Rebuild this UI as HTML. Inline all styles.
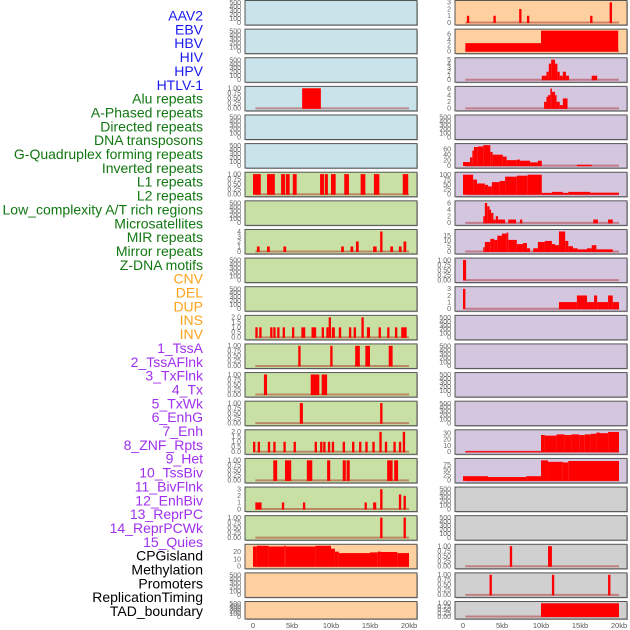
<!DOCTYPE html>
<html><head><meta charset="utf-8">
<style>
body{margin:0;background:#fff;}
svg{display:block;font-family:"Liberation Sans",sans-serif;}
</style></head>
<body>
<svg id="chart" width="630" height="630" viewBox="0 0 630 630"></svg>
<script>
const trackLabels = ["AAV2","EBV","HBV","HIV","HPV","HTLV-1","Alu repeats","A-Phased repeats","Directed repeats","DNA transposons","G-Quadruplex forming repeats","Inverted repeats","L1 repeats","L2 repeats","Low_complexity A/T rich regions","Microsatellites","MIR repeats","Mirror repeats","Z-DNA motifs","CNV","DEL","DUP","INS","INV","1_TssA","2_TssAFlnk","3_TxFlnk","4_Tx","5_TxWk","6_EnhG","7_Enh","8_ZNF_Rpts","9_Het","10_TssBiv","11_BivFlnk","12_EnhBiv","13_ReprPC","14_ReprPCWk","15_Quies","CPGisland","Methylation","Promoters","ReplicationTiming","TAD_boundary"];
const labelGroups = [6,13,5,15,5];
const groupColors = ["#1a1aee","#117711","#ffa21a","#a030ee","#000000"];
const xTickValues = [0,5,10,15,20];
const xTickLabels = ["0","5kb","10kb","15kb","20kb"];
const E = ["0","100","200","300","400","500"], EV=[0,100,200,300,400,500];
const T1 = ["0.00","0.25","0.50","0.75","1.00"], T1V=[0,0.25,0.5,0.75,1];
// panels: [fill, ymax, tickVals, tickLabels, segments [startKb,endKb,value]]
const leftPanels = [
 ["#c8e3ea",520,EV,E,[]],
 ["#c8e3ea",520,EV,E,[]],
 ["#c8e3ea",520,EV,E,[]],
 ["#c8e3ea",1.02,T1V,T1,[[6.3,8.7,1]]],
 ["#c8e3ea",520,EV,E,[]],
 ["#c8e3ea",520,EV,E,[]],
 ["#c8e0a4",1.02,T1V,T1,[[0,1,1],[1.8,2.8,1],[3.6,4.1,1],[4.2,4.7,1],[5.1,5.6,1],[8.6,9.1,1],[9.2,9.6,1],[10,10.6,1],[11.7,12.3,1],[13.8,14.4,1],[15.5,16.2,1],[19.2,19.9,1]]],
 ["#c8e0a4",520,EV,E,[]],
 ["#c8e0a4",4.1,[0,1,2,3,4],["0","1","2","3","4"],[[0.5,0.85,1],[1.8,2.15,1],[3.9,4.25,1],[11.3,11.65,1],[12.5,12.85,1],[13.2,13.55,2],[15.4,15.85,1],[16.3,16.6,4],[17.6,17.95,1],[18.7,19.05,1],[19.3,19.65,2]]],
 ["#c8e0a4",520,EV,E,[]],
 ["#c8e0a4",520,EV,E,[]],
 ["#c8e0a4",2.05,[0,0.5,1,1.5,2],["0.0","0.5","1.0","1.5","2.0"],[[0.3,0.6,1],[0.8,1.1,1],[2.2,2.5,1],[2.6,2.9,1],[3.1,3.4,1],[3.8,4.1,1],[5,5.3,1],[6.2,6.7,1],[7.5,8.1,1],[8.8,9.1,1],[9.4,9.7,1],[9.7,10,2],[10.1,10.5,1],[11.0,11.3,1],[12.3,12.6,1],[12.9,13.2,1],[13.9,14.2,2],[14.6,15,1],[16.1,16.4,1],[17.2,17.5,1],[18.2,18.5,1],[19,19.7,1]]],
 ["#c8e0a4",1.02,T1V,T1,[[5.8,6.1,1],[9.9,10.2,1],[13.1,13.7,1],[14.4,15,1],[17.4,17.9,1]]],
 ["#c8e0a4",1.02,T1V,T1,[[1.4,1.8,1],[7.4,8.5,1],[8.8,9.5,1]]],
 ["#c8e0a4",1.02,T1V,T1,[[6,6.4,1],[16.3,16.6,1]]],
 ["#c8e0a4",2.05,[0,0.5,1,1.5,2],["0.0","0.5","1.0","1.5","2.0"],[[0,0.3,1],[0.6,0.9,1],[1.9,2.2,1],[2.6,2.9,1],[3.9,4.2,1],[5.2,5.5,1],[7.9,8.2,1],[8.6,8.9,1],[9,9.3,1],[9.6,9.9,1],[10.1,10.4,1],[11.5,11.8,1],[12.7,13,1],[13.6,13.9,1],[14.4,14.7,1],[15.3,15.6,1],[16.2,16.5,2],[16.9,17.2,1],[18,18.3,1],[18.7,19,1],[19.2,19.5,2]]],
 ["#c8e0a4",1.02,T1V,T1,[[2.6,3.1,1],[4.1,4.9,1],[6.9,7.6,1],[9.5,9.9,1],[11.5,11.9,1],[12,12.4,1],[17.2,17.9,1],[18.1,18.6,1]]],
 ["#c8e0a4",3.1,[0,1,2,3],["0","1","2","3"],[[0.3,1.1,1],[3.7,4.0,1],[6.4,6.7,1],[14.3,14.6,1],[15.4,15.8,1],[16.3,16.6,3],[18.7,19.0,2.2],[19.3,19.6,2]]],
 ["#c8e0a4",1.02,T1V,T1,[[16.3,16.6,1],[19.3,19.6,1]]],
 ["#fed0a0",28,[0,10,20],["0","10","20"],[[0,0.5,27],[0.5,2,28],[2,4,27],[4,4.2,28],[4.2,8,27],[8,10,28],[10,10.5,24],[10.5,11,20],[11,15,18],[15,16,19],[16,16.4,20],[16.4,18.5,19.5],[18.5,20,18]]],
 ["#fed0a0",520,EV,E,[]],
 ["#fed0a0",520,EV,E,[]]
];
const rightPanels = [
 ["#fed0a0",3.05,[0,1,2,3],["0","1","2","3"],[[0.5,0.8,1],[3.9,4.2,1],[7.2,7.5,2],[8.2,8.5,1],[16.3,16.6,1],[18.8,19.1,3]]],
 ["#fed0a0",7.2,[0,2,4,6],["0","2","4","6"],[[0.3,10,2.8],[10,19.9,7.2]]],
 ["#d5c6e0",5.1,[0,1,2,3,4,5],["0","1","2","3","4","5"],[[10.1,10.7,1],[10.7,11,2],[11,11.3,4],[11.3,11.8,5],[11.8,12.1,4],[12.1,12.4,2],[12.4,12.8,1],[12.8,13.2,2],[13.2,13.6,1],[16.5,17.2,1]]],
 ["#d5c6e0",6.2,[0,2,4,6],["0","2","4","6"],[[10.4,10.7,2],[10.7,10.9,3.5],[10.9,11.2,4],[11.2,11.4,6],[11.4,11.8,5],[11.8,12,4],[12,12.4,2],[12.4,12.8,1],[12.8,13.4,3]]],
 ["#d5c6e0",520,EV,E,[]],
 ["#d5c6e0",75,[0,20,40,60],["0","20","40","60"],[[0,0.9,13],[0.9,1.2,30],[1.2,1.4,55],[1.4,1.9,68],[1.9,2.6,70],[2.6,3.5,75],[3.5,3.8,50],[3.8,5.1,40],[5.1,5.6,33],[5.6,6.9,20],[6.9,7.3,22],[7.3,8.6,18],[8.6,9.6,12],[9.6,10.1,18],[14.6,16.5,3]]],
 ["#d5c6e0",105,[0,25,50,75,100],["0","25","50","75","100"],[[0,1.3,100],[1.3,1.8,75],[1.8,2.8,55],[2.8,3.2,48],[3.2,3.7,40],[3.7,4.7,62],[4.7,5.4,68],[5.4,6.9,90],[6.9,8.3,95],[8.3,10.1,100],[10.1,11.4,7],[11.4,12.8,12],[12.8,13.5,7],[13.5,16.3,12],[16.3,20,8]]],
 ["#d5c6e0",6.2,[0,2,4,6],["0","2","4","6"],[[2.6,2.8,2],[2.8,3.1,6],[3.1,3.4,5],[3.4,3.6,4],[3.6,3.9,3],[3.9,4.2,1],[4.2,4.5,2],[4.5,5.4,1],[5.8,6.8,1],[7.3,7.6,1],[16.7,17.3,1],[18.6,19.2,1]]],
 ["#d5c6e0",19.5,[0,5,10,15],["0","5","10","15"],[[2.6,2.8,4],[2.8,3.5,9],[3.5,4,12],[4,4.4,11],[4.4,5,15],[5,5.6,17],[5.6,5.8,18],[5.8,6.9,11],[6.9,7.7,7],[7.7,8.2,8],[8.2,8.6,3],[9,9.6,3],[9.6,10.5,9],[10.5,11.4,10],[11.4,11.8,7],[11.8,12.3,6],[12.3,13.1,19],[13.1,13.5,10],[13.5,14.1,5],[14.1,14.7,3],[14.7,15.9,2],[15.9,16.5,3],[16.5,17.1,6],[17.1,19.2,2]]],
 ["#d5c6e0",1.02,T1V,T1,[[0,0.4,1]]],
 ["#d5c6e0",3.1,[0,1,2,3],["0","1","2","3"],[[0,0.3,3],[12.3,14.6,1],[14.6,15.9,2],[15.9,16.8,1],[16.8,17.2,2],[17.2,18.6,1],[18.6,19.2,2],[19.2,20,1]]],
 ["#d5c6e0",520,EV,E,[]],
 ["#d5c6e0",520,EV,E,[]],
 ["#d5c6e0",520,EV,E,[]],
 ["#d5c6e0",520,EV,E,[]],
 ["#d5c6e0",33,[0,10,20,30],["0","10","20","30"],[[0.3,10,1],[10,10.5,27],[10.5,12,26],[12,13,28],[13,13.9,27],[13.9,14.9,28],[14.9,15.6,27],[15.6,16.4,28],[16.4,17.1,29],[17.1,17.5,31],[17.5,18.6,30],[18.6,20,32]]],
 ["#d5c6e0",97,[0,25,50,75],["0","25","50","75"],[[0,3.2,20],[3.2,8.1,16],[8.1,10,20],[10,10.9,95],[10.9,12.8,88],[12.8,13.5,85],[13.5,20,92]]],
 ["#d0d0d0",520,EV,E,[]],
 ["#d0d0d0",520,EV,E,[]],
 ["#d0d0d0",1.02,T1V,T1,[[6,6.3,1],[10.9,11.4,1]]],
 ["#d0d0d0",1.02,T1V,T1,[[3.4,3.7,1],[11.4,11.7,1],[18.6,18.9,1]]],
 ["#d0d0d0",1.02,T1V,T1,[[10,20,1]]]
];
const NS="http://www.w3.org/2000/svg";
const svg=document.getElementById('chart');
function mk(tag,attrs,parent){const e=document.createElementNS(NS,tag);for(const k in attrs)e.setAttribute(k,attrs[k]);(parent||svg).appendChild(e);return e;}
let li=0;
labelGroups.forEach((n,g)=>{for(let j=0;j<n;j++){
 const t=mk('text',{x:203,y:20.5+li*13.85,'text-anchor':'end','font-size':'14',fill:groupColors[g]});
 t.textContent=trackLabels[li];
 
 
 li++;}});
function drawColumn(panels,px,x0,colName){
 const xs=kb=>x0+kb*7.8;
 panels.forEach((p,i)=>{
  const top=0.5+i*28.62, h=(i===21)?17.5:24.5;
  const g=mk('g',{});
  
  
  mk('rect',{x:px+1,y:top+1,width:172,height:h,fill:'#b8b8b8'},g);
  mk('rect',{x:px,y:top,width:172,height:h,fill:p[0],stroke:'#555','stroke-width':1},g);
  const y0=top+h-2.5, y1=top+1.5;
  const ys=v=>y0-(v/p[1])*(y0-y1);
  p[2].forEach((tv,k)=>{
   const t=mk('text',{x:px-4,y:ys(tv)+2.3,'text-anchor':'end','font-size':'7',fill:'#666'},g);
   t.textContent=p[3][k];
  });
  if(p[4].length){
   mk('line',{x1:xs(0.3),x2:xs(20),y1:y0,y2:y0,stroke:'rgba(170,30,30,0.45)','stroke-width':2},g);
  }
  p[4].forEach(s=>{
   const r=mk('rect',{x:xs(s[0]),y:ys(s[2]),width:Math.max(1.5,xs(s[1])-xs(s[0])),height:y0-ys(s[2])+0.5,fill:'#ff0000'},g);
   
   
  });
 });
 xTickValues.forEach((v,k)=>{
  const t=mk('text',{x:xs(v),y:628,'text-anchor':'middle','font-size':'7.5',fill:'#555'});
  t.textContent=xTickLabels[k];
  
  
 });
}
drawColumn(leftPanels,245,253,'left');
drawColumn(rightPanels,455,463,'right');
</script>
</body></html>
